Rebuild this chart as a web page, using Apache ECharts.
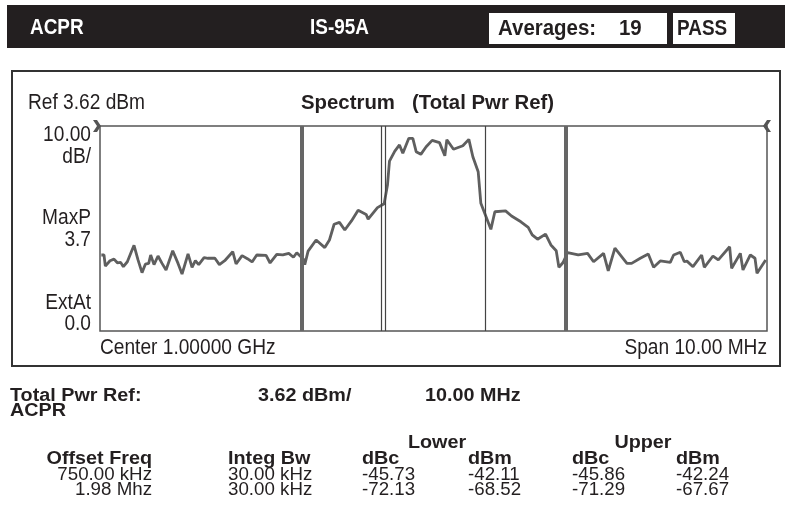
<!DOCTYPE html>
<html>
<head>
<meta charset="utf-8">
<script src="https://cdn.jsdelivr.net/npm/echarts@6/dist/echarts.min.js"></script>
<style>
html,body{margin:0;padding:0;background:#fff;}
#chart{width:785px;height:529px;}
</style>
</head>
<body>
<div id="chart"></div>
<script>
// trace: offset from center (MHz) and level (dBm)
var freqMHz = [-4.98,-4.94,-4.92,-4.85,-4.79,-4.74,-4.69,-4.65,-4.59,-4.53,
  -4.49,-4.43,-4.37,-4.32,-4.27,-4.24,-4.19,-4.13,-4.07,-4.01,
  -3.91,-3.83,-3.77,-3.68,-3.62,-3.57,-3.52,-3.44,-3.38,-3.28,
  -3.21,-3.13,-3.01,-2.96,-2.87,-2.79,-2.72,-2.65,-2.51,-2.45,
  -2.35,-2.26,-2.17,-2.10,-2.05,-1.95,-1.93,-1.88,-1.76,-1.63,
  -1.56,-1.49,-1.41,-1.33,-1.23,-1.13,-1.01,-0.98,-0.84,-0.74,
  -0.69,-0.66,-0.58,-0.51,-0.46,-0.37,-0.31,-0.26,-0.19,-0.11,
  -0.02,0.09,0.17,0.20,0.30,0.44,0.53,0.59,0.67,0.71,
  0.86,0.92,1.08,1.17,1.31,1.42,1.48,1.56,1.68,1.76,
  1.84,1.88,1.94,2.01,2.17,2.31,2.40,2.55,2.62,2.72,
  2.90,2.97,3.10,3.22,3.30,3.40,3.55,3.60,3.70,3.76,
  3.80,3.89,4.02,4.06,4.19,4.27,4.44,4.47,4.60,4.64,
  4.75,4.82,4.85,4.98]
var levelDbm = [-59.3,-59.3,-64.7,-62.1,-61.3,-63.1,-62.9,-65.0,-62.6,-57.7,
  -54.6,-61.7,-67.9,-63.8,-63.4,-59.3,-64.0,-59.8,-63.4,-66.6,
  -57.2,-63.4,-68.6,-58.8,-65.3,-62.1,-64.0,-60.6,-60.9,-60.8,
  -64.0,-62.1,-57.7,-63.7,-59.6,-61.1,-62.7,-59.3,-59.5,-63.2,
  -59.0,-59.2,-58.5,-60.4,-58.2,-61.4,-64.0,-57.4,-52.0,-55.7,
  -52.0,-44.3,-43.4,-47.1,-42.7,-37.5,-39.5,-41.8,-36.2,-34.3,
  -25.2,-13.5,-8.6,-5.6,-9.7,-2.4,-2.4,-8.9,-10.2,-6.5,
  -3.4,-4.5,-10.9,-3.1,-7.7,-6.0,-2.9,-11.4,-18.7,-34.1,
  -46.8,-38.2,-37.8,-40.3,-43.1,-45.8,-49.5,-51.6,-49.1,-54.4,
  -57.2,-65.3,-63.1,-58.2,-59.3,-58.5,-62.6,-58.5,-67.0,-56.0,
  -63.4,-63.4,-60.9,-58.8,-65.3,-62.2,-62.9,-59.3,-58.0,-62.6,
  -62.3,-65.0,-59.3,-65.3,-59.8,-61.7,-55.3,-65.8,-58.5,-66.6,
  -59.3,-60.9,-68.2,-61.7]
// marker lines (MHz offset)
var thickMarks = [-1.98, 1.98]
var thinMarks = [-0.78, -0.735, 0.765]
var refLevel = 3.62
var dbPerDiv = 10

// ACPR table
var offsetFreq = ['750.00 kHz', '1.98 Mhz']
var integBw = ['30.00 kHz', '30.00 kHz']
var lowerDbc = ['-45.73', '-72.13']
var lowerDbm = ['-42.11', '-68.52']
var upperDbc = ['-45.86', '-71.29']
var upperDbm = ['-42.24', '-67.67']

var FONT = '"Liberation Sans",Arial,sans-serif'

var chartDom = document.getElementById('chart')
var myChart = echarts.init(chartDom)
var option

var trace = []
for (var i = 0; i < freqMHz.length; i++) {
    trace.push([freqMHz[i], levelDbm[i]])
}

// text helper, sx squeezes/stretches the glyphs horizontally
function txt(x, y, s, size, bold, align, sx, color) {
    return {
        type: 'text', x: x, y: y, scaleX: sx || 1, silent: true,
        style: {
            text: s, fill: color || '#231f20', fontFamily: FONT,
            fontSize: size, fontWeight: bold ? 'bold' : 'normal',
            align: align || 'left', verticalAlign: 'middle'
        }
    }
}

var g = []
// header bar
g.push({type: 'rect', shape: {x: 7, y: 5, width: 778, height: 43}, style: {fill: '#231f20'}, silent: true})
g.push({type: 'rect', shape: {x: 489, y: 13, width: 178, height: 31}, style: {fill: '#fff'}, silent: true})
g.push({type: 'rect', shape: {x: 673, y: 13, width: 62, height: 31}, style: {fill: '#fff'}, silent: true})
g.push(txt(30, 28, 'ACPR', 22, true, 'left', 0.86, '#fff'))
g.push(txt(310, 28, 'IS-95A', 22, true, 'left', 0.86, '#fff'))
g.push(txt(498, 29, 'Averages:    19', 22, true, 'left', 0.93))
g.push(txt(677, 29, 'PASS', 22, true, 'left', 0.86))
// frame
g.push({type: 'rect', shape: {x: 12, y: 71, width: 768, height: 295}, style: {fill: 'none', stroke: '#333', lineWidth: 2}, silent: true})
g.push(txt(28, 103, 'Ref 3.62 dBm', 22, false, 'left', 0.87))
g.push(txt(301, 103, 'Spectrum   (Total Pwr Ref)', 21, true, 'left', 0.97))
g.push(txt(91, 135, '10.00', 22, false, 'right', 0.87))
g.push(txt(91, 157, 'dB/', 22, false, 'right', 0.87))
g.push(txt(91, 218, 'MaxP', 22, false, 'right', 0.87))
g.push(txt(91, 240, '3.7', 22, false, 'right', 0.87))
g.push(txt(91, 303, 'ExtAt', 22, false, 'right', 0.87))
g.push(txt(91, 324, '0.0', 22, false, 'right', 0.87))
g.push(txt(100, 348, 'Center 1.00000 GHz', 22, false, 'left', 0.87))
g.push(txt(767, 348, 'Span 10.00 MHz', 22, false, 'right', 0.87))
// results
var BS = 17.5, BX = 1.13, RS = 18, RX = 1.04
g.push(txt(10, 396, 'Total Pwr Ref:', BS, true, 'left', BX))
g.push(txt(10, 411, 'ACPR', BS, true, 'left', BX))
g.push(txt(258, 396, '3.62 dBm/', BS, true, 'left', BX))
g.push(txt(425, 396, '10.00 MHz', BS, true, 'left', BX))
g.push(txt(437, 443, 'Lower', BS, true, 'center', BX))
g.push(txt(643, 443, 'Upper', BS, true, 'center', BX))
g.push(txt(152, 459, 'Offset Freq', BS, true, 'right', BX))
g.push(txt(228, 459, 'Integ Bw', BS, true, 'left', BX))
g.push(txt(362, 459, 'dBc', BS, true, 'left', BX))
g.push(txt(468, 459, 'dBm', BS, true, 'left', BX))
g.push(txt(572, 459, 'dBc', BS, true, 'left', BX))
g.push(txt(676, 459, 'dBm', BS, true, 'left', BX))
for (var r = 0; r < offsetFreq.length; r++) {
    var y = 475 + r * 15.5
    g.push(txt(152, y, offsetFreq[r], RS, false, 'right', RX))
    g.push(txt(228, y, integBw[r], RS, false, 'left', RX))
    g.push(txt(362, y, lowerDbc[r], RS, false, 'left', RX))
    g.push(txt(468, y, lowerDbm[r], RS, false, 'left', RX))
    g.push(txt(572, y, upperDbc[r], RS, false, 'left', RX))
    g.push(txt(676, y, upperDbm[r], RS, false, 'left', RX))
}

var thickLines = []
for (var i = 0; i < thickMarks.length; i++) thickLines.push({xAxis: thickMarks[i]})
var thinLines = []
for (var i = 0; i < thinMarks.length; i++) thinLines.push({xAxis: thinMarks[i]})

option = {
    animation: false,
    grid: {
        left: 100, top: 126, width: 667, height: 205,
        show: true, borderColor: '#555', borderWidth: 1.5, backgroundColor: '#fff'
    },
    xAxis: {
        type: 'value', min: -5, max: 5,
        axisLine: {show: false}, axisTick: {show: false},
        axisLabel: {show: false}, splitLine: {show: false}
    },
    yAxis: {
        type: 'value', min: refLevel - 10 * dbPerDiv, max: refLevel,
        axisLine: {show: false}, axisTick: {show: false},
        axisLabel: {show: false}, splitLine: {show: false}
    },
    graphic: g,
    series: [
        {
            type: 'line', data: [], silent: true,
            markLine: {
                silent: true, symbol: 'none', label: {show: false},
                lineStyle: {color: '#666', width: 4, type: 'solid'},
                data: thickLines
            }
        },
        {
            type: 'line', data: [], silent: true,
            markLine: {
                silent: true, symbol: 'none', label: {show: false},
                lineStyle: {color: '#444', width: 1.2, type: 'solid'},
                data: thinLines
            }
        },
        {
            type: 'line', data: trace, showSymbol: false, silent: true,
            lineStyle: {color: '#5f5f5f', width: 2.8},
            markPoint: {
                silent: true, label: {show: false},
                data: [
                    {coord: [-5, refLevel], symbol: 'path://M0,0 L5,0 L10,6 L5,12 L0,12 L5,6 Z', symbolSize: [8, 12], symbolOffset: [-3, 0], itemStyle: {color: '#555'}},
                    {coord: [5, refLevel], symbol: 'path://M10,0 L5,0 L0,6 L5,12 L10,12 L5,6 Z', symbolSize: [8, 12], symbolOffset: [0, 0], itemStyle: {color: '#555'}}
                ]
            }
        }
    ]
}
option && myChart.setOption(option);
</script>
</body>
</html>
